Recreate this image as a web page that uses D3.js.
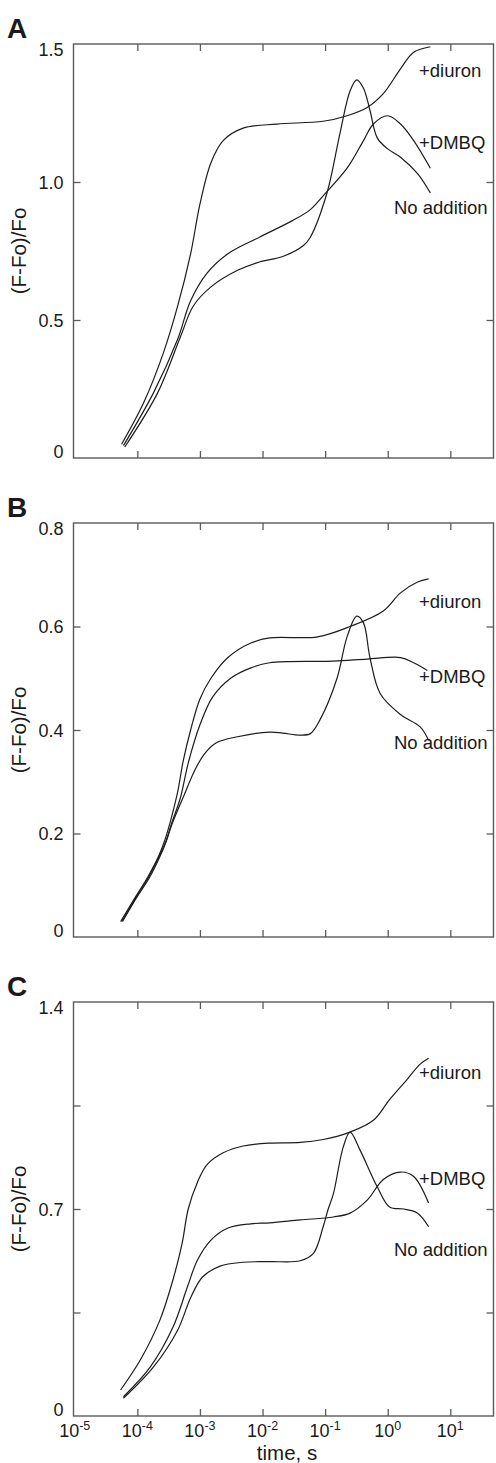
<!DOCTYPE html>
<html>
<head>
<meta charset="utf-8">
<script src="https://cdn.jsdelivr.net/npm/d3@7"></script>
<style>
  html, body { margin: 0; padding: 0; background: #fff; }
  svg { display: block; }
  text { font-family: "Liberation Sans", Arial, Helvetica, sans-serif; fill: #1a1a1a; }
</style>
</head>
<body>
<svg id="chart" width="496" height="1463"></svg>
<script>
// Chlorophyll fluorescence induction (OJIP) traces: time in seconds, (F-Fo)/Fo

// Panel A
const aDiuron = [[5.6e-5,0.05],[1.26e-4,0.20],[2.6e-4,0.38],[4.4e-4,0.55],[7.1e-4,0.74],[1.0e-3,0.92],[1.5e-3,1.07],[2.35e-3,1.15],[4.9e-3,1.195],[0.017,1.21],[0.093,1.22],[0.224,1.24],[0.47,1.27],[0.85,1.32],[1.6,1.41],[2.6,1.47],[4.8,1.49]];
const aDMBQ = [[6.0e-5,0.045],[1.8e-4,0.235],[4.4e-4,0.43],[7.1e-4,0.57],[1.3e-3,0.67],[2.8e-3,0.74],[8.9e-3,0.80],[0.030,0.86],[0.058,0.90],[0.093,0.95],[0.224,1.05],[0.41,1.15],[0.59,1.21],[1.0,1.24],[1.6,1.21],[2.6,1.15],[4.8,1.05]];
const aNone = [[6.3e-5,0.04],[2.1e-4,0.235],[4.9e-4,0.44],[7.8e-4,0.55],[1.5e-3,0.62],[4.0e-3,0.68],[8.9e-3,0.71],[0.021,0.73],[0.045,0.77],[0.058,0.80],[0.107,0.96],[0.174,1.18],[0.25,1.33],[0.32,1.37],[0.41,1.34],[0.52,1.26],[0.68,1.16],[1.0,1.12],[1.6,1.09],[3.0,1.03],[4.8,0.96]];

// Panel B
const bDiuron = [[5.4e-5,0.03],[9.3e-5,0.077],[1.5e-4,0.118],[2.2e-4,0.157],[2.8e-4,0.19],[3.4e-4,0.225],[4.4e-4,0.28],[5.4e-4,0.34],[7.1e-4,0.40],[1.0e-3,0.46],[1.5e-3,0.50],[2.8e-3,0.54],[6.5e-3,0.568],[0.013,0.578],[0.076,0.58],[0.25,0.60],[0.85,0.63],[1.6,0.665],[3.0,0.686],[4.5,0.692]];
const bDMBQ = [[5.6e-5,0.03],[9.5e-5,0.076],[1.5e-4,0.115],[2.2e-4,0.154],[2.9e-4,0.187],[3.5e-4,0.218],[4.9e-4,0.27],[6.5e-4,0.336],[1.0e-3,0.41],[1.6e-3,0.464],[3.1e-3,0.50],[6.5e-3,0.52],[0.013,0.53],[0.135,0.533],[0.47,0.537],[1.6,0.54],[2.6,0.53],[4.3,0.515]];
const bNone = [[5.8e-5,0.03],[9.6e-5,0.075],[1.55e-4,0.114],[2.25e-4,0.153],[2.9e-4,0.185],[3.5e-4,0.215],[5.4e-4,0.27],[8.5e-4,0.325],[1.2e-3,0.355],[1.8e-3,0.375],[4.0e-3,0.387],[0.013,0.396],[0.021,0.394],[0.040,0.39],[0.058,0.393],[0.083,0.42],[0.155,0.50],[0.224,0.58],[0.32,0.62],[0.41,0.607],[0.52,0.54],[0.76,0.47],[1.6,0.43],[3.3,0.406],[4.5,0.38]];

// Panel C
const cDiuron = [[5.4e-5,0.088],[1.12e-4,0.19],[2.3e-4,0.325],[3.7e-4,0.46],[5.2e-4,0.585],[6.5e-4,0.70],[9.1e-4,0.79],[1.3e-3,0.85],[2.35e-3,0.89],[4.9e-3,0.913],[0.013,0.923],[0.040,0.925],[0.093,0.935],[0.25,0.96],[0.59,1.0],[1.07,1.07],[2.0,1.136],[3.3,1.19],[4.5,1.21]];
const cDMBQ = [[6.0e-5,0.065],[1.6e-4,0.165],[3.7e-4,0.30],[6.3e-4,0.436],[9.1e-4,0.527],[1.5e-3,0.595],[2.75e-3,0.635],[6.5e-3,0.65],[0.013,0.653],[0.040,0.663],[0.135,0.673],[0.25,0.686],[0.47,0.73],[0.85,0.80],[1.6,0.825],[2.6,0.81],[4.5,0.72]];
const cNone = [[6.0e-5,0.06],[1.8e-4,0.165],[4.4e-4,0.29],[7.1e-4,0.40],[1.1e-3,0.47],[2.1e-3,0.507],[4.9e-3,0.52],[0.013,0.522],[0.040,0.525],[0.065,0.55],[0.093,0.64],[0.112,0.70],[0.135,0.75],[0.195,0.91],[0.25,0.96],[0.36,0.90],[0.68,0.775],[1.07,0.707],[1.8,0.70],[3.0,0.686],[4.5,0.64]];

// Axis settings
const panelLetters = ["A", "B", "C"];
const yMax = [1.5, 0.8, 1.4];
const yLabelValues = [[0, 0.5, 1.0, 1.5], [0, 0.2, 0.4, 0.6, 0.8], [0, 0.7, 1.4]];
const yTickValues = [[0.5, 1.0], [0.2, 0.4, 0.6], [0.35, 0.7, 1.05]];
const timeDomain = [Math.pow(10, -5.02), Math.pow(10, 1.69)];
const timeTickValues = [1e-4, 1e-3, 1e-2, 1e-1, 1e0, 1e1];
const timeLabelExponents = [-5, -4, -3, -2, -1, 0, 1];
const seriesNames = ["+diuron", "+DMBQ", "No addition"];
const yTitle = "(F-Fo)/Fo";
const xTitle = "time, s";

const panels = [
  { series: [aDiuron, aDMBQ, aNone], labelAt: [1.38, 1.12, 0.885] },
  { series: [bDiuron, bDMBQ, bNone], labelAt: [0.636, 0.49, 0.363] },
  { series: [cDiuron, cDMBQ, cNone], labelAt: [1.14, 0.78, 0.54] }
];

const svg = d3.select("#chart");
const left = 73.5, right = 493.5;
const panelTop = [44, 523, 1002];
const panelH = 414;
const tick = 7;
const axisColor = "#5a5a5a";

const x = d3.scaleLog().domain(timeDomain).range([left, right]);

panels.forEach((p, i) => {
  const top = panelTop[i], bottom = top + panelH;
  const y = d3.scaleLinear().domain([0, yMax[i]]).range([bottom, top]);
  const g = svg.append("g");

  // inward tick marks on all four sides
  const clean = sel => { sel.select(".domain").remove(); sel.selectAll("line").attr("stroke", axisColor).attr("stroke-width", 1.3); };
  g.append("g").attr("transform", `translate(${left},0)`)
    .call(d3.axisLeft(y).tickValues(yTickValues[i]).tickSize(-tick).tickFormat(""))
    .call(clean);
  g.append("g").attr("transform", `translate(${right},0)`)
    .call(d3.axisRight(y).tickValues(yTickValues[i]).tickSize(-tick).tickFormat(""))
    .call(clean);
  g.append("g").attr("transform", `translate(0,${top})`)
    .call(d3.axisTop(x).tickValues(timeTickValues).tickSize(-tick).tickFormat(""))
    .call(clean);
  g.append("g").attr("transform", `translate(0,${bottom})`)
    .call(d3.axisBottom(x).tickValues(timeTickValues).tickSize(-tick).tickFormat(""))
    .call(clean);

  // y labels
  const yl = g.append("g").attr("transform", `translate(${left},0)`)
    .call(d3.axisLeft(y).tickValues(yLabelValues[i]).tickSize(0).tickPadding(10)
      .tickFormat(v => v === 0 ? "0" : v.toFixed(1)));
  yl.select(".domain").remove();
  yl.selectAll("text")
    .attr("font-size", 18)
    .attr("font-family", null)
    .attr("fill", "#1a1a1a")
    .attr("dy", v => v === 0 ? "-0.05em" : (v === yMax[i] ? "0.62em" : "0.35em"));

  // frame
  g.append("rect")
    .attr("x", left).attr("y", top)
    .attr("width", right - left).attr("height", panelH)
    .attr("fill", "none").attr("stroke", axisColor).attr("stroke-width", 1.4);

  // traces
  const line = d3.line().x(d => x(d[0])).y(d => y(d[1])).curve(d3.curveCatmullRom.alpha(0.5));
  p.series.forEach(s => {
    g.append("path").datum(s).attr("d", line)
      .attr("fill", "none").attr("stroke", "#1c1c1c").attr("stroke-width", 1.2);
  });

  // trace names
  seriesNames.forEach((name, k) => {
    g.append("text")
      .attr("x", k === 2 ? 394 : 419)
      .attr("y", y(p.labelAt[k]))
      .attr("font-size", 18.5)
      .text(name);
  });

  // panel letter
  g.append("text").attr("x", 7).attr("y", top - 6)
    .attr("font-size", 28).attr("font-weight", "bold").text(panelLetters[i]);

  // y title
  g.append("text")
    .attr("transform", `translate(26,${(top + bottom) / 2}) rotate(-90)`)
    .attr("text-anchor", "middle")
    .attr("font-size", 20.5)
    .text(yTitle);

  // time axis labels on the last panel
  if (i === panels.length - 1) {
    timeLabelExponents.forEach(e => {
      const t = g.append("text")
        .attr("x", x(Math.pow(10, e)))
        .attr("y", bottom + 21)
        .attr("text-anchor", "middle")
        .attr("font-size", 18);
      t.append("tspan").text("10");
      t.append("tspan").attr("font-size", 12.5).attr("dy", -7).text(e < 0 ? "-" + (-e) : String(e));
    });
    g.append("text")
      .attr("x", 287).attr("y", bottom + 44)
      .attr("text-anchor", "middle")
      .attr("font-size", 20.5)
      .text(xTitle);
  }
});
</script>
</body>
</html>
